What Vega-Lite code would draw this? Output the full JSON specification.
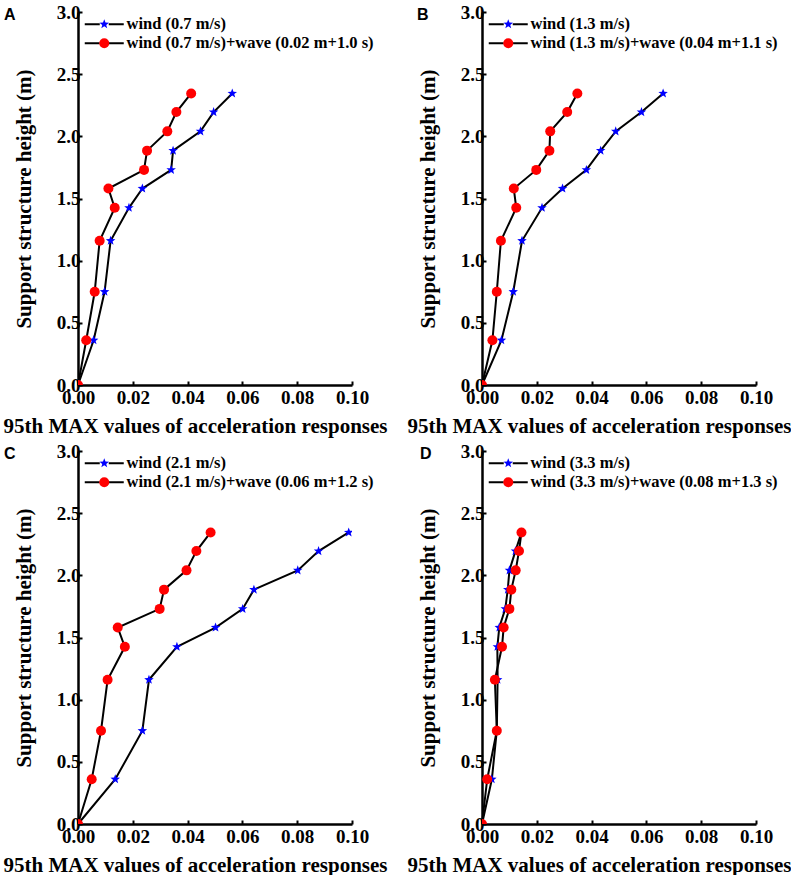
{
  "$schema": "https://vega.github.io/schema/vega-lite/v6.json",
  "padding": {"left": 3, "top": 3, "right": 0, "bottom": 0},
  "spacing": 6,
  "resolve": {"scale": {"fill": "independent", "shape": "independent", "stroke": "independent"}, "legend": {"fill": "independent", "shape": "independent", "stroke": "independent"}},
  "config": {
    "view": {"stroke": null},
    "axis": {
      "grid": false,
      "domainColor": "black",
      "domainWidth": 2.5,
      "tickColor": "black",
      "tickWidth": 2,
      "tickSize": -4,
      "labelFont": "Liberation Serif",
      "labelFontWeight": "bold",
      "labelFontSize": 19,
      "labelColor": "black",
      "labelFlush": false,
      "titleFont": "Liberation Serif",
      "titleFontWeight": "bold",
      "titleFontSize": 21,
      "titleColor": "black"
    },
    "axisX": {"labelPadding": 7, "titlePadding": 8, "titleX": 117},
    "axisY": {"labelPadding": 2, "titlePadding": 22},
    "legend": {
      "labelFont": "Liberation Serif",
      "labelFontWeight": "bold",
      "labelFontSize": 16.5,
      "labelColor": "black",
      "labelLimit": 0,
      "padding": 0,
      "rowPadding": 2,
      "symbolSize": 100,
      "title": null
    },
    "title": {"font": "Liberation Sans", "fontWeight": "bold", "fontSize": 16, "color": "black", "anchor": "start", "frame": "group", "baseline": "alphabetic", "offset": -20}
  },
  "vconcat": [
    {
      "spacing": 20,
      "resolve": {"scale": {"fill": "independent", "shape": "independent", "stroke": "independent"}, "legend": {"fill": "independent", "shape": "independent", "stroke": "independent"}},
      "hconcat": [
        {
          "title": {"text": "A", "dx": -74},
          "width": 274,
          "height": 373,
          "data": {"values": [
            {"series": "wind (0.7 m/s)", "h": 0, "a": 0},
            {"series": "wind (0.7 m/s)", "h": 0.36, "a": 0.0057},
            {"series": "wind (0.7 m/s)", "h": 0.75, "a": 0.0097},
            {"series": "wind (0.7 m/s)", "h": 1.16, "a": 0.0119},
            {"series": "wind (0.7 m/s)", "h": 1.425, "a": 0.0186},
            {"series": "wind (0.7 m/s)", "h": 1.58, "a": 0.0235},
            {"series": "wind (0.7 m/s)", "h": 1.73, "a": 0.034},
            {"series": "wind (0.7 m/s)", "h": 1.885, "a": 0.0347},
            {"series": "wind (0.7 m/s)", "h": 2.04, "a": 0.0447},
            {"series": "wind (0.7 m/s)", "h": 2.195, "a": 0.0495},
            {"series": "wind (0.7 m/s)", "h": 2.345, "a": 0.0563},
            {"series": "wind (0.7 m/s)+wave (0.02 m+1.0 s)", "h": 0, "a": 0},
            {"series": "wind (0.7 m/s)+wave (0.02 m+1.0 s)", "h": 0.36, "a": 0.003},
            {"series": "wind (0.7 m/s)+wave (0.02 m+1.0 s)", "h": 0.75, "a": 0.0061},
            {"series": "wind (0.7 m/s)+wave (0.02 m+1.0 s)", "h": 1.16, "a": 0.0079},
            {"series": "wind (0.7 m/s)+wave (0.02 m+1.0 s)", "h": 1.425, "a": 0.0134},
            {"series": "wind (0.7 m/s)+wave (0.02 m+1.0 s)", "h": 1.58, "a": 0.0111},
            {"series": "wind (0.7 m/s)+wave (0.02 m+1.0 s)", "h": 1.73, "a": 0.0241},
            {"series": "wind (0.7 m/s)+wave (0.02 m+1.0 s)", "h": 1.885, "a": 0.0252},
            {"series": "wind (0.7 m/s)+wave (0.02 m+1.0 s)", "h": 2.04, "a": 0.0326},
            {"series": "wind (0.7 m/s)+wave (0.02 m+1.0 s)", "h": 2.195, "a": 0.0359},
            {"series": "wind (0.7 m/s)+wave (0.02 m+1.0 s)", "h": 2.345, "a": 0.0413}
          ]},
          "encoding": {
            "x": {"field": "a", "type": "quantitative", "scale": {"domain": [0, 0.1]}, "axis": {"values": [0, 0.02, 0.04, 0.06, 0.08, 0.1], "format": ".2f", "title": "95th MAX values of acceleration responses"}},
            "y": {"field": "h", "type": "quantitative", "scale": {"domain": [0, 3]}, "axis": {"values": [0, 0.5, 1, 1.5, 2, 2.5, 3], "format": ".1f", "title": "Support structure height (m)"}}
          },
          "layer": [
            {
              "mark": {"type": "line", "strokeWidth": 2},
              "encoding": {
                "order": {"field": "h"},
                "stroke": {"field": "series", "type": "nominal", "scale": {"domain": ["wind (0.7 m/s)", "wind (0.7 m/s)+wave (0.02 m+1.0 s)"], "range": ["black", "black"]},
                  "legend": {"orient": "none", "legendX": 18, "legendY": 4, "symbolType": "M-3.9,0H-0.9M0.9,0H3.9", "symbolStrokeWidth": 2, "labelOffset": 14}}
              }
            },
            {
              "mark": {"type": "point", "filled": true, "opacity": 1, "size": 100, "clip": true},
              "encoding": {
                "fill": {"field": "series", "type": "nominal", "scale": {"range": ["#0000ff", "#ff0000"]}, "legend": {"orient": "none", "legendX": 18, "legendY": 4, "labelOpacity": 0, "labelOffset": 14}},
                "shape": {"field": "series", "type": "nominal", "scale": {"range": ["M0,-1L0.247,-0.34L0.951,-0.309L0.399,0.13L0.588,0.809L0,0.42L-0.588,0.809L-0.399,0.13L-0.951,-0.309L-0.247,-0.34Z", "circle"]}, "legend": {"orient": "none", "legendX": 18, "legendY": 4, "labelOpacity": 0, "labelOffset": 14}}
              }
            }
          ]
        },
        {
          "title": {"text": "B", "dx": -65},
          "width": 274,
          "height": 373,
          "data": {"values": [
            {"series": "wind (1.3 m/s)", "h": 0, "a": 0},
            {"series": "wind (1.3 m/s)", "h": 0.36, "a": 0.0071},
            {"series": "wind (1.3 m/s)", "h": 0.75, "a": 0.0114},
            {"series": "wind (1.3 m/s)", "h": 1.16, "a": 0.0146},
            {"series": "wind (1.3 m/s)", "h": 1.425, "a": 0.0219},
            {"series": "wind (1.3 m/s)", "h": 1.58, "a": 0.0294},
            {"series": "wind (1.3 m/s)", "h": 1.73, "a": 0.0381},
            {"series": "wind (1.3 m/s)", "h": 1.885, "a": 0.0433},
            {"series": "wind (1.3 m/s)", "h": 2.04, "a": 0.0488},
            {"series": "wind (1.3 m/s)", "h": 2.195, "a": 0.0582},
            {"series": "wind (1.3 m/s)", "h": 2.345, "a": 0.0661},
            {"series": "wind (1.3 m/s)+wave (0.04 m+1.1 s)", "h": 0, "a": 0},
            {"series": "wind (1.3 m/s)+wave (0.04 m+1.1 s)", "h": 0.36, "a": 0.0038},
            {"series": "wind (1.3 m/s)+wave (0.04 m+1.1 s)", "h": 0.75, "a": 0.0054},
            {"series": "wind (1.3 m/s)+wave (0.04 m+1.1 s)", "h": 1.16, "a": 0.0069},
            {"series": "wind (1.3 m/s)+wave (0.04 m+1.1 s)", "h": 1.425, "a": 0.0125},
            {"series": "wind (1.3 m/s)+wave (0.04 m+1.1 s)", "h": 1.58, "a": 0.0116},
            {"series": "wind (1.3 m/s)+wave (0.04 m+1.1 s)", "h": 1.73, "a": 0.0198},
            {"series": "wind (1.3 m/s)+wave (0.04 m+1.1 s)", "h": 1.885, "a": 0.0246},
            {"series": "wind (1.3 m/s)+wave (0.04 m+1.1 s)", "h": 2.04, "a": 0.0249},
            {"series": "wind (1.3 m/s)+wave (0.04 m+1.1 s)", "h": 2.195, "a": 0.0311},
            {"series": "wind (1.3 m/s)+wave (0.04 m+1.1 s)", "h": 2.345, "a": 0.0348}
          ]},
          "encoding": {
            "x": {"field": "a", "type": "quantitative", "scale": {"domain": [0, 0.1]}, "axis": {"values": [0, 0.02, 0.04, 0.06, 0.08, 0.1], "format": ".2f", "title": "95th MAX values of acceleration responses"}},
            "y": {"field": "h", "type": "quantitative", "scale": {"domain": [0, 3]}, "axis": {"values": [0, 0.5, 1, 1.5, 2, 2.5, 3], "format": ".1f", "title": "Support structure height (m)"}}
          },
          "layer": [
            {
              "mark": {"type": "line", "strokeWidth": 2},
              "encoding": {
                "order": {"field": "h"},
                "stroke": {"field": "series", "type": "nominal", "scale": {"domain": ["wind (1.3 m/s)", "wind (1.3 m/s)+wave (0.04 m+1.1 s)"], "range": ["black", "black"]},
                  "legend": {"orient": "none", "legendX": 18, "legendY": 4, "symbolType": "M-3.9,0H-0.9M0.9,0H3.9", "symbolStrokeWidth": 2, "labelOffset": 14}}
              }
            },
            {
              "mark": {"type": "point", "filled": true, "opacity": 1, "size": 100, "clip": true},
              "encoding": {
                "fill": {"field": "series", "type": "nominal", "scale": {"range": ["#0000ff", "#ff0000"]}, "legend": {"orient": "none", "legendX": 18, "legendY": 4, "labelOpacity": 0, "labelOffset": 14}},
                "shape": {"field": "series", "type": "nominal", "scale": {"range": ["M0,-1L0.247,-0.34L0.951,-0.309L0.399,0.13L0.588,0.809L0,0.42L-0.588,0.809L-0.399,0.13L-0.951,-0.309L-0.247,-0.34Z", "circle"]}, "legend": {"orient": "none", "legendX": 18, "legendY": 4, "labelOpacity": 0, "labelOffset": 14}}
              }
            }
          ]
        }
      ]
    },
    {
      "spacing": 20,
      "resolve": {"scale": {"fill": "independent", "shape": "independent", "stroke": "independent"}, "legend": {"fill": "independent", "shape": "independent", "stroke": "independent"}},
      "hconcat": [
        {
          "title": {"text": "C", "dx": -74},
          "width": 274,
          "height": 373,
          "data": {"values": [
            {"series": "wind (2.1 m/s)", "h": 0, "a": 0},
            {"series": "wind (2.1 m/s)", "h": 0.36, "a": 0.0136},
            {"series": "wind (2.1 m/s)", "h": 0.75, "a": 0.0235},
            {"series": "wind (2.1 m/s)", "h": 1.16, "a": 0.0259},
            {"series": "wind (2.1 m/s)", "h": 1.425, "a": 0.0361},
            {"series": "wind (2.1 m/s)", "h": 1.58, "a": 0.0502},
            {"series": "wind (2.1 m/s)", "h": 1.73, "a": 0.0601},
            {"series": "wind (2.1 m/s)", "h": 1.885, "a": 0.0642},
            {"series": "wind (2.1 m/s)", "h": 2.04, "a": 0.0802},
            {"series": "wind (2.1 m/s)", "h": 2.195, "a": 0.0878},
            {"series": "wind (2.1 m/s)", "h": 2.345, "a": 0.0988},
            {"series": "wind (2.1 m/s)+wave (0.06 m+1.2 s)", "h": 0, "a": 0},
            {"series": "wind (2.1 m/s)+wave (0.06 m+1.2 s)", "h": 0.36, "a": 0.005},
            {"series": "wind (2.1 m/s)+wave (0.06 m+1.2 s)", "h": 0.75, "a": 0.0084},
            {"series": "wind (2.1 m/s)+wave (0.06 m+1.2 s)", "h": 1.16, "a": 0.0108},
            {"series": "wind (2.1 m/s)+wave (0.06 m+1.2 s)", "h": 1.425, "a": 0.0171},
            {"series": "wind (2.1 m/s)+wave (0.06 m+1.2 s)", "h": 1.58, "a": 0.0145},
            {"series": "wind (2.1 m/s)+wave (0.06 m+1.2 s)", "h": 1.73, "a": 0.0298},
            {"series": "wind (2.1 m/s)+wave (0.06 m+1.2 s)", "h": 1.885, "a": 0.0314},
            {"series": "wind (2.1 m/s)+wave (0.06 m+1.2 s)", "h": 2.04, "a": 0.0396},
            {"series": "wind (2.1 m/s)+wave (0.06 m+1.2 s)", "h": 2.195, "a": 0.0432},
            {"series": "wind (2.1 m/s)+wave (0.06 m+1.2 s)", "h": 2.345, "a": 0.0484}
          ]},
          "encoding": {
            "x": {"field": "a", "type": "quantitative", "scale": {"domain": [0, 0.1]}, "axis": {"values": [0, 0.02, 0.04, 0.06, 0.08, 0.1], "format": ".2f", "title": "95th MAX values of acceleration responses"}},
            "y": {"field": "h", "type": "quantitative", "scale": {"domain": [0, 3]}, "axis": {"values": [0, 0.5, 1, 1.5, 2, 2.5, 3], "format": ".1f", "title": "Support structure height (m)"}}
          },
          "layer": [
            {
              "mark": {"type": "line", "strokeWidth": 2},
              "encoding": {
                "order": {"field": "h"},
                "stroke": {"field": "series", "type": "nominal", "scale": {"domain": ["wind (2.1 m/s)", "wind (2.1 m/s)+wave (0.06 m+1.2 s)"], "range": ["black", "black"]},
                  "legend": {"orient": "none", "legendX": 18, "legendY": 4, "symbolType": "M-3.9,0H-0.9M0.9,0H3.9", "symbolStrokeWidth": 2, "labelOffset": 14}}
              }
            },
            {
              "mark": {"type": "point", "filled": true, "opacity": 1, "size": 100, "clip": true},
              "encoding": {
                "fill": {"field": "series", "type": "nominal", "scale": {"range": ["#0000ff", "#ff0000"]}, "legend": {"orient": "none", "legendX": 18, "legendY": 4, "labelOpacity": 0, "labelOffset": 14}},
                "shape": {"field": "series", "type": "nominal", "scale": {"range": ["M0,-1L0.247,-0.34L0.951,-0.309L0.399,0.13L0.588,0.809L0,0.42L-0.588,0.809L-0.399,0.13L-0.951,-0.309L-0.247,-0.34Z", "circle"]}, "legend": {"orient": "none", "legendX": 18, "legendY": 4, "labelOpacity": 0, "labelOffset": 14}}
              }
            }
          ]
        },
        {
          "title": {"text": "D", "dx": -62},
          "width": 274,
          "height": 373,
          "data": {"values": [
            {"series": "wind (3.3 m/s)", "h": 0, "a": 0},
            {"series": "wind (3.3 m/s)", "h": 0.36, "a": 0.0036},
            {"series": "wind (3.3 m/s)", "h": 0.75, "a": 0.0054},
            {"series": "wind (3.3 m/s)", "h": 1.16, "a": 0.0057},
            {"series": "wind (3.3 m/s)", "h": 1.425, "a": 0.0056},
            {"series": "wind (3.3 m/s)", "h": 1.58, "a": 0.0063},
            {"series": "wind (3.3 m/s)", "h": 1.73, "a": 0.0085},
            {"series": "wind (3.3 m/s)", "h": 1.885, "a": 0.0094},
            {"series": "wind (3.3 m/s)", "h": 2.04, "a": 0.01},
            {"series": "wind (3.3 m/s)", "h": 2.195, "a": 0.0122},
            {"series": "wind (3.3 m/s)", "h": 2.345, "a": 0.0144},
            {"series": "wind (3.3 m/s)+wave (0.08 m+1.3 s)", "h": 0, "a": 0},
            {"series": "wind (3.3 m/s)+wave (0.08 m+1.3 s)", "h": 0.36, "a": 0.0019},
            {"series": "wind (3.3 m/s)+wave (0.08 m+1.3 s)", "h": 0.75, "a": 0.0054},
            {"series": "wind (3.3 m/s)+wave (0.08 m+1.3 s)", "h": 1.16, "a": 0.0047},
            {"series": "wind (3.3 m/s)+wave (0.08 m+1.3 s)", "h": 1.425, "a": 0.0073},
            {"series": "wind (3.3 m/s)+wave (0.08 m+1.3 s)", "h": 1.58, "a": 0.0079},
            {"series": "wind (3.3 m/s)+wave (0.08 m+1.3 s)", "h": 1.73, "a": 0.01},
            {"series": "wind (3.3 m/s)+wave (0.08 m+1.3 s)", "h": 1.885, "a": 0.0107},
            {"series": "wind (3.3 m/s)+wave (0.08 m+1.3 s)", "h": 2.04, "a": 0.0123},
            {"series": "wind (3.3 m/s)+wave (0.08 m+1.3 s)", "h": 2.195, "a": 0.0135},
            {"series": "wind (3.3 m/s)+wave (0.08 m+1.3 s)", "h": 2.345, "a": 0.0144}
          ]},
          "encoding": {
            "x": {"field": "a", "type": "quantitative", "scale": {"domain": [0, 0.1]}, "axis": {"values": [0, 0.02, 0.04, 0.06, 0.08, 0.1], "format": ".2f", "title": "95th MAX values of acceleration responses"}},
            "y": {"field": "h", "type": "quantitative", "scale": {"domain": [0, 3]}, "axis": {"values": [0, 0.5, 1, 1.5, 2, 2.5, 3], "format": ".1f", "title": "Support structure height (m)"}}
          },
          "layer": [
            {
              "mark": {"type": "line", "strokeWidth": 2},
              "encoding": {
                "order": {"field": "h"},
                "stroke": {"field": "series", "type": "nominal", "scale": {"domain": ["wind (3.3 m/s)", "wind (3.3 m/s)+wave (0.08 m+1.3 s)"], "range": ["black", "black"]},
                  "legend": {"orient": "none", "legendX": 18, "legendY": 4, "symbolType": "M-3.9,0H-0.9M0.9,0H3.9", "symbolStrokeWidth": 2, "labelOffset": 14}}
              }
            },
            {
              "mark": {"type": "point", "filled": true, "opacity": 1, "size": 100, "clip": true},
              "encoding": {
                "fill": {"field": "series", "type": "nominal", "scale": {"range": ["#0000ff", "#ff0000"]}, "legend": {"orient": "none", "legendX": 18, "legendY": 4, "labelOpacity": 0, "labelOffset": 14}},
                "shape": {"field": "series", "type": "nominal", "scale": {"range": ["M0,-1L0.247,-0.34L0.951,-0.309L0.399,0.13L0.588,0.809L0,0.42L-0.588,0.809L-0.399,0.13L-0.951,-0.309L-0.247,-0.34Z", "circle"]}, "legend": {"orient": "none", "legendX": 18, "legendY": 4, "labelOpacity": 0, "labelOffset": 14}}
              }
            }
          ]
        }
      ]
    }
  ]
}
